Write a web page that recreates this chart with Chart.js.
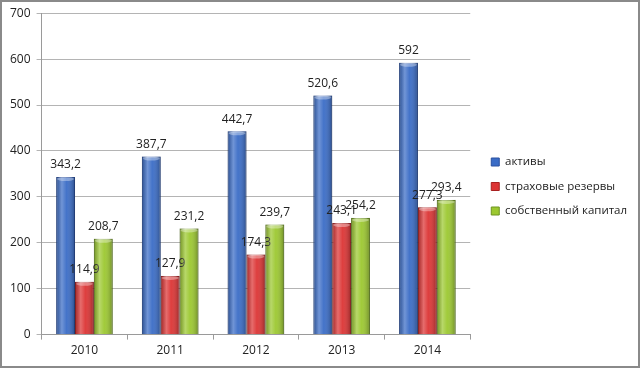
<!DOCTYPE html>
<html>
<head>
<meta charset="utf-8">
<script src="https://cdn.jsdelivr.net/npm/chart.js@4/dist/chart.umd.min.js"></script>
<style>
  html, body { margin: 0; padding: 0; background: #fff; }
  #wrap { width: 641px; height: 368px; position: relative; }
</style>
</head>
<body>
<div id="wrap"><canvas id="chart"></canvas></div>
<script>
// data
var years = ['2010', '2011', '2012', '2013', '2014'];
var assets = [343.2, 387.7, 442.7, 520.6, 592];
var reserves = [114.9, 127.9, 174.3, 243.1, 277.3];
var equity = [208.7, 231.2, 239.7, 254.2, 293.4];
var seriesNames = ['активы', 'страховые резервы', 'собственный капитал'];
var yTicks = [0, 100, 200, 300, 400, 500, 600, 700];

var FONT = '"Open Sans", "Liberation Sans", sans-serif';

function fmt(v) {
    return String(v).replace('.', ',');
}

// frame round the whole picture
var framePlugin = {
    id: 'frame',
    afterDraw: function (chart) {
        var ctx = chart.ctx;
        ctx.save();
        ctx.strokeStyle = '#8a8a8a';
        ctx.lineWidth = 2;
        ctx.strokeRect(1, 1, chart.width - 3, chart.height - 2);
        ctx.restore();
    }
};

// shading on the bars (cylinder look) and value labels
var barLook = {
    id: 'barLook',
    afterDatasetsDraw: function (chart) {
        var ctx = chart.ctx;
        chart.data.datasets.forEach(function (ds, i) {
            var meta = chart.getDatasetMeta(i);
            meta.data.forEach(function (bar, j) {
                var p = bar.getProps(['x', 'y', 'base', 'width'], true);
                var l = p.x - p.width / 2, r = p.x + p.width / 2;
                var g = ctx.createLinearGradient(l, 0, r, 0);
                g.addColorStop(0, 'rgba(0,0,0,0.25)');
                g.addColorStop(0.3, 'rgba(255,255,255,0.28)');
                g.addColorStop(0.55, 'rgba(255,255,255,0.05)');
                g.addColorStop(1, 'rgba(0,0,0,0.3)');
                ctx.save();
                ctx.fillStyle = g;
                ctx.fillRect(l, p.y, p.width, p.base - p.y);
                // lighter cap
                ctx.fillStyle = 'rgba(255,255,255,0.35)';
                ctx.beginPath();
                ctx.ellipse(p.x, p.y + 2, p.width / 2 - 1, 2, 0, 0, Math.PI * 2);
                ctx.fill();
                ctx.restore();

                ctx.save();
                ctx.font = '12px ' + FONT;
                ctx.fillStyle = '#222';
                ctx.textAlign = 'center';
                ctx.textBaseline = 'middle';
                ctx.fillText(fmt(ds.data[j]), p.x, p.y - 12);
                ctx.restore();
            });
        });
    }
};

var ctx = document.getElementById('chart').getContext('2d');
var myChart = new Chart(ctx, {
    type: 'bar',
    data: {
        labels: years,
        datasets: [{
            label: seriesNames[0],
            data: assets,
            backgroundColor: '#3a6cc6',
            borderColor: '#2a50a0',
            borderWidth: 1
        },
        {
            label: seriesNames[1],
            data: reserves,
            backgroundColor: '#dc3434',
            borderColor: '#a82020',
            borderWidth: 1
        },
        {
            label: seriesNames[2],
            data: equity,
            backgroundColor: '#9cc830',
            borderColor: '#6e9420',
            borderWidth: 1
        }]
    },
    options: {
        responsive: true,
        maintainAspectRatio: false,
        animation: false,
        layout: {
            padding: { top: 11, right: 10, bottom: 6, left: 4 }
        },
        datasets: {
            bar: { categoryPercentage: 0.66, barPercentage: 1 }
        },
        scales: {
            x: {
                grid: {
                    offset: true,
                    drawOnChartArea: false,
                    color: '#9a9a9a',
                    tickLength: 5
                },
                border: { color: '#9a9a9a' },
                ticks: {
                    color: '#222',
                    font: { family: FONT, size: 12 },
                    padding: 4
                }
            },
            y: {
                min: 0,
                max: 700,
                afterBuildTicks: function (axis) {
                    axis.ticks = yTicks.map(function (v) { return { value: v }; });
                },
                grid: {
                    color: '#b4b4b4',
                    tickLength: 5
                },
                border: { color: '#9a9a9a' },
                ticks: {
                    color: '#222',
                    font: { family: FONT, size: 12 },
                    padding: 6
                }
            }
        },
        plugins: {
            legend: {
                position: 'right',
                align: 'center',
                labels: {
                    boxWidth: 8,
                    boxHeight: 8,
                    padding: 13,
                    color: '#222',
                    font: { family: FONT, size: 11.5 }
                }
            },
            tooltip: { enabled: false }
        }
    },
    plugins: [barLook, framePlugin]
});

// a bit more room between the plot and the legend, as in the picture
var legend = myChart.legend;
var fit0 = legend.fit;
legend.fit = function () {
    fit0.apply(this, arguments);
    this.width += 4;
};
var draw0 = legend.draw;
legend.draw = function () {
    this.ctx.save();
    this.ctx.translate(8, 0);
    draw0.apply(this, arguments);
    this.ctx.restore();
};
myChart.update();
</script>
</body>
</html>
